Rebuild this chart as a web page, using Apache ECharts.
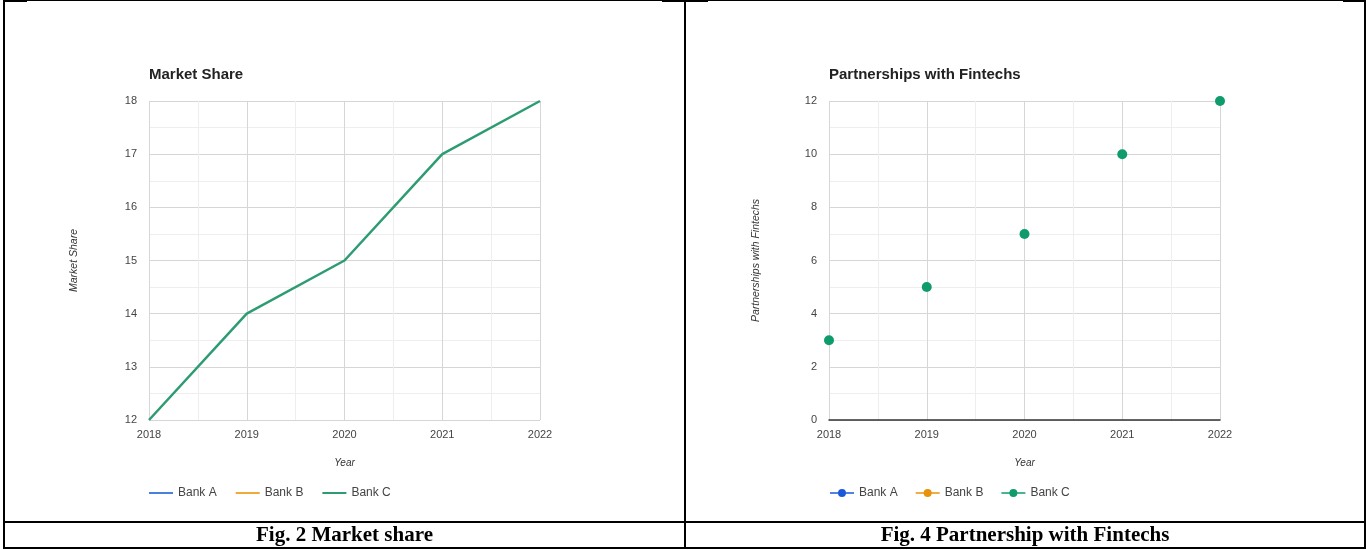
<!DOCTYPE html>
<html>
<head>
<meta charset="utf-8">
<script src="https://cdn.jsdelivr.net/npm/echarts@6/dist/echarts.min.js"></script>
<style>
html,body{margin:0;padding:0;background:#fff;}
#c{width:1366px;height:550px;}
</style>
</head>
<body>
<div id="c"></div>
<script>
// ---- data ----
var years = [2018, 2019, 2020, 2021, 2022];
var seriesNames = ['Bank A', 'Bank B', 'Bank C'];
var marketShareC = [12, 14, 15, 17, 18];
var partnershipsC = [3, 5, 7, 10, 12];
var leftTitle = 'Market Share';
var rightTitle = 'Partnerships with Fintechs';
var leftCaption = 'Fig. 2 Market share';
var rightCaption = 'Fig. 4 Partnership with Fintechs';

var leftColors = ['#4a7fdb', '#f0aa3a', '#2e9c72'];
var rightColors = ['#1a5ad9', '#e8920c', '#0f9b6c'];

function pairs(vals) { return years.map(function (y, i) { return [y, vals[i]]; }); }

var FONT = "'Liberation Sans', Arial, sans-serif";
var dotIcon = 'path://M0 4.3H24V5.7H0Z M12 1A4 4 0 1 1 11.99 1Z';
var lineIcon = 'path://M0 0H24V2H0Z';

function xAxisCfg(gi, baseline) {
  return {
    gridIndex: gi, type: 'value', min: 2018, max: 2022, interval: 1,
    name: 'Year', nameLocation: 'middle', nameGap: 38,
    nameTextStyle: { fontFamily: FONT, fontSize: 10, fontStyle: 'italic', color: '#333' },
    axisLine: { show: baseline, lineStyle: { color: '#333', width: 1.5 } },
    axisTick: { show: false },
    axisLabel: { margin: 9, fontFamily: FONT, fontSize: 11, color: '#444', formatter: function (v) { return String(v); } },
    splitLine: { show: true, lineStyle: { color: '#d6d6d6' } },
    minorTick: { show: false, splitNumber: 2 },
    minorSplitLine: { show: true, lineStyle: { color: '#eeeeee' } }
  };
}
function yAxisCfg(gi, name, min, max, interval, gap) {
  return {
    gridIndex: gi, type: 'value', min: min, max: max, interval: interval,
    name: name, nameLocation: 'middle', nameGap: gap,
    nameTextStyle: { fontFamily: FONT, fontSize: 10.5, fontStyle: 'italic', color: '#333' },
    axisLine: { show: false }, axisTick: { show: false },
    axisLabel: { margin: 12, fontFamily: FONT, fontSize: 11, color: '#444' },
    splitLine: { show: true, lineStyle: { color: '#d6d6d6' } },
    minorTick: { show: false, splitNumber: 2 },
    minorSplitLine: { show: true, lineStyle: { color: '#eeeeee' } }
  };
}

var series = [];
seriesNames.forEach(function (n, i) {
  series.push({
    name: n, type: 'line', xAxisIndex: 0, yAxisIndex: 0, symbol: 'none',
    color: leftColors[i], lineStyle: { width: 2.5, color: leftColors[i] },
    data: i === 2 ? pairs(marketShareC) : [], z: 3 + i
  });
});
seriesNames.forEach(function (n, i) {
  series.push({
    name: n + ' ', type: 'scatter', xAxisIndex: 1, yAxisIndex: 1, symbolSize: 10,
    itemStyle: { color: rightColors[i], opacity: 1 },
    data: i === 2 ? pairs(partnershipsC) : [], z: 3 + i
  });
});

var legendText = { fontFamily: FONT, fontSize: 12, color: '#444' };

var option = {
  animation: false,
  backgroundColor: '#fff',
  title: [
    { text: leftTitle, left: 144, top: 62, textStyle: { fontFamily: FONT, fontSize: 15, fontWeight: 'bold', color: '#222' } },
    { text: rightTitle, left: 824, top: 62, textStyle: { fontFamily: FONT, fontSize: 15, fontWeight: 'bold', color: '#222' } }
  ],
  grid: [
    { left: 149, top: 101, width: 391, height: 319 },
    { left: 829, top: 101, width: 391, height: 319 }
  ],
  xAxis: [xAxisCfg(0, false), xAxisCfg(1, true)],
  yAxis: [yAxisCfg(0, 'Market Share', 12, 18, 1, 69), yAxisCfg(1, 'Partnerships with Fintechs', 0, 12, 2, 67)],
  legend: [
    { left: 144, top: 482, itemWidth: 24, itemHeight: 2, itemGap: 19, textStyle: legendText,
      data: seriesNames.map(function (n, i) { return { name: n, icon: lineIcon, itemStyle: { color: leftColors[i] } }; }) },
    { left: 825, top: 482, itemWidth: 24, itemHeight: 8, itemGap: 18, textStyle: legendText,
      formatter: function (n) { return n.trim(); },
      data: seriesNames.map(function (n, i) { return { name: n + ' ', icon: dotIcon, itemStyle: { color: rightColors[i], opacity: 1 } }; }) }
  ],
  series: series,
  graphic: [
    // table borders
    { type: 'rect', shape: { x: 3, y: 0, width: 1362, height: 1 }, style: { fill: '#000' } },
    { type: 'rect', shape: { x: 3, y: 0, width: 24, height: 2 }, style: { fill: '#000' } },
    { type: 'rect', shape: { x: 662, y: 0, width: 46, height: 2 }, style: { fill: '#000' } },
    { type: 'rect', shape: { x: 1343, y: 0, width: 22, height: 2 }, style: { fill: '#000' } },
    { type: 'rect', shape: { x: 3, y: 0, width: 2, height: 549 }, style: { fill: '#000' } },
    { type: 'rect', shape: { x: 684, y: 0, width: 2, height: 549 }, style: { fill: '#000' } },
    { type: 'rect', shape: { x: 1364, y: 0, width: 2, height: 549 }, style: { fill: '#000' } },
    { type: 'rect', shape: { x: 3, y: 521, width: 1363, height: 2 }, style: { fill: '#000' } },
    { type: 'rect', shape: { x: 3, y: 547, width: 1363, height: 2 }, style: { fill: '#000' } },
    // captions
    { type: 'text', x: 344.5, y: 536, style: { text: leftCaption, fill: '#000', font: "bold 21px 'Liberation Serif', 'Times New Roman', serif", align: 'center', verticalAlign: 'middle' } },
    { type: 'text', x: 1025, y: 536, style: { text: rightCaption, fill: '#000', font: "bold 21px 'Liberation Serif', 'Times New Roman', serif", align: 'center', verticalAlign: 'middle' } }
  ]
};

var chart = echarts.init(document.getElementById('c'), null, { renderer: 'canvas' });
chart.setOption(option);
</script>
</body>
</html>
